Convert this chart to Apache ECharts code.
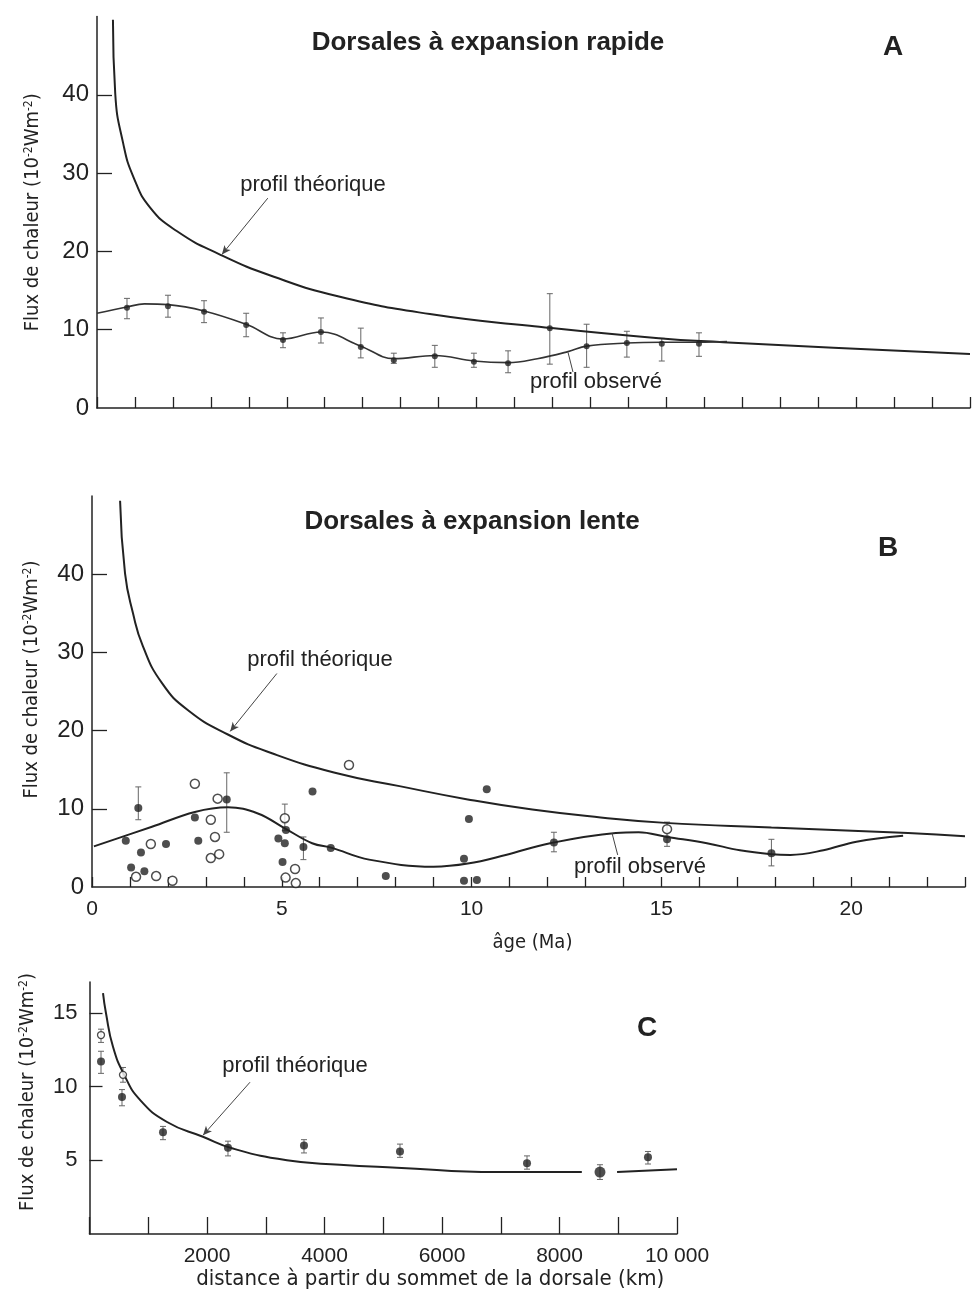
<!DOCTYPE html>
<html>
<head>
<meta charset="utf-8">
<script src="https://cdn.jsdelivr.net/npm/echarts@6.0.0/dist/echarts.min.js"></script>
<style>
html, body { margin: 0; padding: 0; background: #fff; }
#chart { width: 972px; height: 1293px; }
</style>
</head>
<body>
<div id="chart"></div>
<script>
// ---- panel A : dorsales à expansion rapide (age Ma, flux 10-2 W/m2)
var theoA = [[0.42, 49.6], [0.48, 40.2], [0.69, 33.8], [0.96, 29.5], [1.4, 25.6], [2.1, 22.6], [3.24, 19.6],
    [4.64, 16.8], [6.4, 14.2], [8.77, 12.0], [11.4, 10.5], [14.8, 8.9], [16.5, 8.4], [19.4, 7.7], [23, 6.9]];
var obsCurveA = [[0, 12.1], [0.79, 12.9], [1.25, 13.3], [1.87, 13.2], [2.82, 12.4], [3.93, 10.7], [4.9, 8.8],
    [5.9, 9.7], [6.95, 7.9], [7.82, 6.3], [8.9, 6.7], [9.93, 6.0], [10.83, 5.8], [11.6, 6.3], [12.41, 7.2],
    [12.9, 7.9], [13.96, 8.3], [14.88, 8.4], [15.86, 8.4], [16.6, 8.5]];
var pointsA = [[0.79, 12.8], [1.87, 13.0], [2.82, 12.3], [3.93, 10.6], [4.9, 8.7], [5.9, 9.7], [6.95, 7.8],
    [7.82, 6.1], [8.9, 6.6], [9.93, 5.9], [10.83, 5.7], [11.93, 10.2], [12.9, 7.9], [13.96, 8.3], [14.88, 8.2], [15.86, 8.2]];
var errA = [[0.79, 11.4, 14.0], [1.87, 11.6, 14.4], [2.82, 10.9, 13.7], [3.93, 9.1, 12.1], [4.9, 7.7, 9.6],
    [5.9, 8.3, 11.5], [6.95, 6.4, 10.2], [7.82, 5.7, 7.0], [8.9, 5.2, 8.0], [9.93, 5.2, 7.0], [10.83, 4.5, 7.3],
    [11.93, 5.6, 14.6], [12.9, 5.2, 10.7], [13.96, 6.5, 9.8], [14.88, 6.0, 8.9], [15.86, 6.6, 9.6]];

// ---- panel B : dorsales à expansion lente
var theoB = [[0.74, 49.4], [0.87, 40.1], [1.08, 35.0], [1.34, 30.8], [1.84, 26.1], [2.53, 22.6], [3.58, 19.5],
    [4.74, 17.1], [6.4, 14.6], [8.1, 12.9], [9.9, 11.2], [11.6, 9.9], [13.4, 8.9], [15.1, 8.2], [17.9, 7.6], [21.5, 6.9], [23, 6.5]];
var obsCurveB = [[0.05, 5.2], [1.58, 7.7], [2.71, 9.6], [3.58, 10.2], [4.37, 9.4], [5.08, 7.5], [5.8, 5.6],
    [6.32, 5.0], [7.3, 3.5], [9.0, 2.6], [9.9, 3.0], [10.9, 4.1], [12.07, 5.6], [13.8, 6.9], [14.4, 7.0],
    [15.15, 6.4], [16.2, 5.6], [17.07, 4.7], [17.9, 4.2], [18.4, 4.1], [19.27, 4.7], [20.14, 5.8], [21.37, 6.55]];
var filledB = [[0.89, 5.9], [1.22, 10.1], [1.29, 4.4], [1.03, 2.5], [1.38, 2.0], [1.95, 5.5], [2.71, 8.9], [2.8, 5.9],
    [3.55, 11.2], [4.91, 6.2], [5.08, 5.6], [5.11, 7.3], [5.02, 3.2], [5.57, 5.1], [5.81, 12.2], [6.29, 5.0],
    [7.74, 1.4], [9.93, 8.7], [9.8, 3.6], [9.8, 0.8], [10.14, 0.9], [10.4, 12.5], [12.17, 5.7], [15.15, 6.1], [17.9, 4.3]];
var openB = [[1.16, 1.3], [1.55, 5.5], [1.69, 1.4], [2.12, 0.8], [2.71, 13.2], [3.13, 8.6], [3.24, 6.4], [3.13, 3.7],
    [3.35, 4.2], [3.31, 11.3], [5.08, 8.8], [5.35, 2.3], [5.1, 1.2], [5.37, 0.5], [6.77, 15.6], [15.15, 7.4]];
var errB = [[1.22, 8.6, 12.8], [3.55, 7.0, 14.6], [5.08, 7.2, 10.6], [5.57, 3.5, 6.4], [12.17, 4.5, 7.0],
    [15.15, 5.2, 8.3], [17.9, 2.7, 6.1]];

// ---- panel C : distance au sommet (km)
var theoC = [[230, 16.35], [280, 15.0], [400, 12.7], [590, 10.8], [860, 9.1], [1320, 7.6], [1930, 6.6], [2440, 5.8],
    [3360, 5.0], [4260, 4.7], [5230, 4.5], [6940, 4.2], [8380, 4.2], [8680, null], [8980, 4.2], [10000, 4.4]];
var filledC = [[196, 11.7], [553, 9.3], [1251, 6.9], [2357, 5.85], [3651, 6.0], [5285, 5.6], [7447, 4.8], [9506, 5.2]];
var bigC = [[8689, 4.2]];
var openC = [[196, 13.5], [570, 10.8]];
var errC = [[196, 13.0, 13.9], [196, 10.9, 12.4], [570, 10.3, 11.3], [553, 8.7, 9.8], [1251, 6.4, 7.3],
    [2357, 5.3, 6.3], [3651, 5.5, 6.4], [5285, 5.2, 6.1], [7447, 4.4, 5.3], [8689, 3.7, 4.7], [9506, 4.75, 5.6]];

var yLabelsAB = [0, 10, 20, 30, 40];
var xLabelsB = [0, 5, 10, 15, 20];
var yLabelsC = [5, 10, 15];
var xLabelsC = [2000, 4000, 6000, 8000, 10000];

var INK = '#222';
var SANS = '"Liberation Sans", Arial, sans-serif';
var COND = '"DejaVu Sans Condensed", "Liberation Sans", sans-serif';
var yName = 'Flux de chaleur (10{s|-2}Wm{s|-2})';

var chart = echarts.init(document.getElementById('chart'), null, { renderer: 'canvas' });

function errorBar(params, api) {
    var top = api.coord([api.value(0), api.value(2)]);
    var bot = api.coord([api.value(0), api.value(1)]);
    var cap = 3;
    var st = { stroke: '#666', lineWidth: 1 };
    return {
        type: 'group',
        children: [
            { type: 'line', shape: { x1: top[0], y1: top[1], x2: bot[0], y2: bot[1] }, style: st },
            { type: 'line', shape: { x1: top[0] - cap, y1: top[1], x2: top[0] + cap, y2: top[1] }, style: st },
            { type: 'line', shape: { x1: bot[0] - cap, y1: bot[1], x2: bot[0] + cap, y2: bot[1] }, style: st }
        ]
    };
}

function lineAxis() {
    return { show: true, onZero: false, lineStyle: { color: INK, width: 1.5 } };
}
function ticks(len, vals) {
    var t = { show: true, inside: true, length: len, lineStyle: { color: INK, width: 1.3 } };
    if (vals) t.customValues = vals;
    return t;
}
function nameStyle(size, pad) {
    return {
        fontFamily: COND, fontSize: size, color: INK, padding: pad || 0,
        rich: { s: { fontFamily: COND, fontSize: 12, color: INK, verticalAlign: 'top', lineHeight: 16 } }
    };
}
function txt(text, x, y, size, bold, fam) {
    return {
        type: 'text', x: x, y: y, silent: true,
        style: {
            text: text, fill: INK, font: (bold ? 'bold ' : '') + size + 'px ' + (fam || SANS),
            align: 'center', verticalAlign: 'middle', textAlign: 'center', textVerticalAlign: 'middle'
        }
    };
}
function arrow(from, to, head) {
    return {
        silent: true, animation: false,
        symbol: ['none', head ? 'arrow' : 'none'], symbolSize: [6, 9],
        lineStyle: { color: '#444', width: 1, type: 'solid' },
        label: { show: false },
        data: [[{ coord: from }, { coord: to }]]
    };
}

var option = {
    backgroundColor: '#fff',
    animation: false,
    grid: [
        { left: 97, top: 16.5, width: 873, height: 391.5, outerBoundsMode: 'none', containLabel: false },
        { left: 92, top: 496, width: 873, height: 391, outerBoundsMode: 'none', containLabel: false },
        { left: 89.5, top: 982, width: 587.5, height: 252, outerBoundsMode: 'none', containLabel: false }
    ],
    xAxis: [
        { gridIndex: 0, type: 'value', min: 0, max: 23, interval: 1, axisLine: lineAxis(), axisTick: ticks(11),
          axisLabel: { show: false }, splitLine: { show: false } },
        { gridIndex: 1, type: 'value', min: 0, max: 23, interval: 1, axisLine: lineAxis(), axisTick: ticks(10),
          axisLabel: { customValues: xLabelsB, fontFamily: SANS, fontSize: 21, color: INK, margin: 12 },
          splitLine: { show: false },
          name: 'âge (Ma)', nameLocation: 'middle', nameGap: 46, nameTextStyle: nameStyle(20, [0, 0, 0, 8]) },
        { gridIndex: 2, type: 'value', min: 0, max: 10000, interval: 1000, axisLine: lineAxis(), axisTick: ticks(17),
          axisLabel: { customValues: xLabelsC, fontFamily: SANS, fontSize: 21, color: INK, margin: 12,
                       formatter: function (v) { return v === 10000 ? '10 000' : String(v); } },
          splitLine: { show: false },
          name: 'distance à partir du sommet de la dorsale (km)', nameLocation: 'middle', nameGap: 33,
          nameTextStyle: nameStyle(22, [0, 0, 0, 94]) }
    ],
    yAxis: [
        { gridIndex: 0, type: 'value', min: 0, max: 50, interval: 10, axisLine: lineAxis(),
          axisTick: ticks(15, [10, 20, 30, 40]),
          axisLabel: { customValues: yLabelsAB, fontFamily: SANS, fontSize: 24, color: INK, margin: 8 },
          splitLine: { show: false },
          name: yName, nameLocation: 'middle', nameRotate: 90, nameGap: 54, nameTextStyle: nameStyle(20) },
        { gridIndex: 1, type: 'value', min: 0, max: 50, interval: 10, axisLine: lineAxis(),
          axisTick: ticks(15, [10, 20, 30, 40]),
          axisLabel: { customValues: yLabelsAB, fontFamily: SANS, fontSize: 24, color: INK, margin: 8 },
          splitLine: { show: false },
          name: yName, nameLocation: 'middle', nameRotate: 90, nameGap: 50, nameTextStyle: nameStyle(20, [0, 0, 0, 24]) },
        { gridIndex: 2, type: 'value', min: 0, max: 17.1, interval: 5, axisLine: lineAxis(),
          axisTick: ticks(13, [5, 10, 15]),
          axisLabel: { customValues: yLabelsC, fontFamily: SANS, fontSize: 22, color: INK, margin: 12 },
          splitLine: { show: false },
          name: yName, nameLocation: 'middle', nameRotate: 90, nameGap: 52, nameTextStyle: nameStyle(20, [0, 0, 0, 32]) }
    ],
    series: [
        // A
        { type: 'line', xAxisIndex: 0, yAxisIndex: 0, data: theoA, smooth: 0.5, showSymbol: false,
          lineStyle: { color: INK, width: 2 }, markLine: arrow([4.5, 26.8], [3.29, 19.6], true) },
        { type: 'line', xAxisIndex: 0, yAxisIndex: 0, data: obsCurveA, smooth: 0.4, showSymbol: false,
          lineStyle: { color: '#333', width: 1.6 }, markLine: arrow([12.41, 7.1], [12.54, 4.6], false) },
        { type: 'custom', xAxisIndex: 0, yAxisIndex: 0, data: errA, renderItem: errorBar, encode: { x: 0, y: [1, 2] }, z: 1 },
        { type: 'scatter', xAxisIndex: 0, yAxisIndex: 0, data: pointsA, symbolSize: 6, itemStyle: { color: INK }, z: 4 },
        // B
        { type: 'line', xAxisIndex: 1, yAxisIndex: 1, data: theoB, smooth: 0.5, showSymbol: false,
          lineStyle: { color: INK, width: 2 }, markLine: arrow([4.87, 27.3], [3.64, 19.9], true) },
        { type: 'line', xAxisIndex: 1, yAxisIndex: 1, data: obsCurveB, smooth: 0.4, showSymbol: false,
          lineStyle: { color: INK, width: 2 }, markLine: arrow([13.7, 6.9], [13.85, 4.1], false) },
        { type: 'custom', xAxisIndex: 1, yAxisIndex: 1, data: errB, renderItem: errorBar, encode: { x: 0, y: [1, 2] }, z: 1 },
        { type: 'scatter', xAxisIndex: 1, yAxisIndex: 1, data: filledB, symbolSize: 8, itemStyle: { color: INK }, z: 4 },
        { type: 'scatter', xAxisIndex: 1, yAxisIndex: 1, data: openB, symbolSize: 9,
          itemStyle: { color: '#fff', borderColor: INK, borderWidth: 1.5 }, z: 4 },
        // C
        { type: 'line', xAxisIndex: 2, yAxisIndex: 2, data: theoC, smooth: 0.5, showSymbol: false,
          connectNulls: false, lineStyle: { color: INK, width: 2 }, markLine: arrow([2732, 10.3], [1932, 6.7], true) },
        { type: 'custom', xAxisIndex: 2, yAxisIndex: 2, data: errC, renderItem: errorBar, encode: { x: 0, y: [1, 2] }, z: 1 },
        { type: 'scatter', xAxisIndex: 2, yAxisIndex: 2, data: filledC, symbolSize: 8, itemStyle: { color: INK }, z: 4 },
        { type: 'scatter', xAxisIndex: 2, yAxisIndex: 2, data: bigC, symbolSize: 11, itemStyle: { color: INK }, z: 4 },
        { type: 'scatter', xAxisIndex: 2, yAxisIndex: 2, data: openC, symbolSize: 7,
          itemStyle: { color: '#fff', borderColor: INK, borderWidth: 1.3 }, z: 4 }
    ],
    graphic: [
        txt('Dorsales à expansion rapide', 488, 43, 26, true),
        txt('A', 893, 47, 28, true),
        txt('profil théorique', 313, 185, 22, false),
        txt('profil observé', 596, 382, 22, false),
        txt('Dorsales à expansion lente', 472, 522, 26, true),
        txt('B', 888, 548, 28, true),
        txt('profil théorique', 320, 660, 22, false),
        txt('profil observé', 640, 867, 22, false),
        txt('C', 647, 1028, 28, true),
        txt('profil théorique', 295, 1066, 22, false)
    ]
};

chart.setOption(option);
</script>
</body>
</html>
